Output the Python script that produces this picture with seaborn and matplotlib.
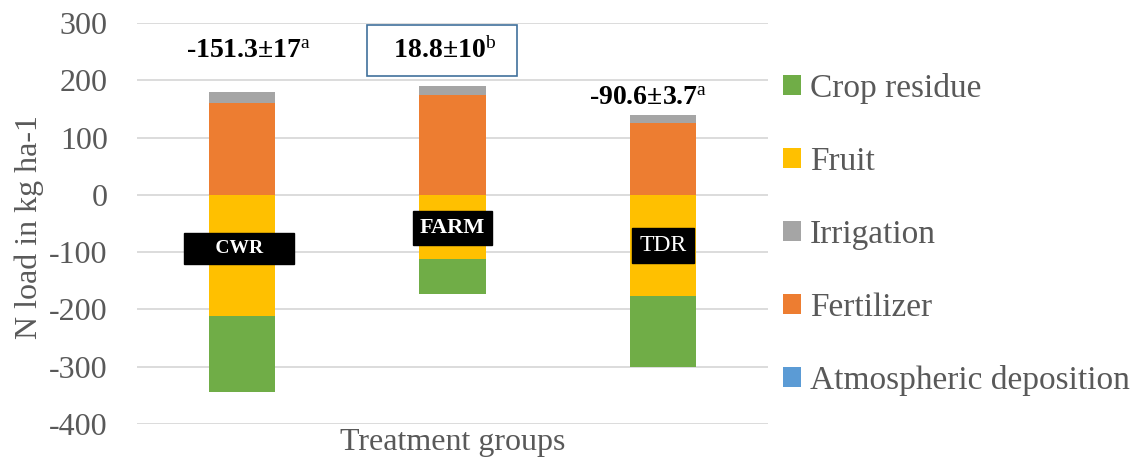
import matplotlib
matplotlib.use("Agg")
import matplotlib.pyplot as plt
from matplotlib.patches import Patch
import seaborn as sns
import numpy as np
import pandas as pd

# ---- data ----
groups = ["CWR", "FARM", "TDR"]
atmospheric_deposition = [0, 0, 0]
fertilizer = [160, 175, 125]
irrigation = [20, 15, 15]
fruit = [-212, -112, -177]
crop_residue = [-132, -61, -123]
net_labels = ["-151.3\u00b117", "18.8\u00b110", "-90.6\u00b13.7"]
net_letters = ["a", "b", "a"]
yticks = [-400, -300, -200, -100, 0, 100, 200, 300]

colors = {
    "Crop residue": "#70AD47",
    "Fruit": "#FFC000",
    "Irrigation": "#A5A5A5",
    "Fertilizer": "#ED7D31",
    "Atmospheric deposition": "#5B9BD5",
}

sns.set_style("white")
plt.rcParams["font.family"] = ["Liberation Serif", "DejaVu Serif"]
plt.rcParams["mathtext.fontset"] = "custom"
plt.rcParams["mathtext.rm"] = "Liberation Serif"
plt.rcParams["mathtext.it"] = "Liberation Serif:italic"
plt.rcParams["mathtext.bf"] = "Liberation Serif:bold"

fig = plt.figure(figsize=(11.39, 4.68), dpi=100)
ax = fig.add_axes([137 / 1139, 1 - 424 / 468, (768 - 137) / 1139, (424 - 23) / 468])

atm = np.array(atmospheric_deposition, float)
fert = np.array(fertilizer, float)
irr = np.array(irrigation, float)
fr = np.array(fruit, float)
cr = np.array(crop_residue, float)

layers = [
    ("Irrigation", atm + fert + irr),
    ("Fertilizer", atm + fert),
    ("Atmospheric deposition", atm),
    ("Crop residue", fr + cr),
    ("Fruit", fr),
]
for name, vals in layers:
    df = pd.DataFrame({"group": groups, "value": vals})
    sns.barplot(data=df, x="group", y="value", order=groups, color=colors[name],
                saturation=1, width=0.315, ax=ax, errorbar=None, linewidth=0,
                zorder=3)

ax.set_ylim(-400, 300)
ax.set_xlim(-0.5, 2.5)
ax.set_yticks(yticks)
ax.set_yticklabels([str(t) for t in yticks])
ax.set_xticks([])
ax.grid(axis="y", color="#D9D9D9", linewidth=1.3, zorder=0)
ax.set_axisbelow(True)
for s in ax.spines.values():
    s.set_visible(False)
ax.tick_params(axis="y", length=0, pad=21, labelsize=23, labelcolor="#595959")

ax.set_ylabel("N load in kg ha-1", fontsize=23, color="#595959")
ax.yaxis.set_label_coords(-0.147, 0.49)
ax.set_xlabel("Treatment groups", fontsize=23, color="#595959")
ax.xaxis.set_label_coords(0.5, -0.01)

# net balance annotations (offsets relative to each group's position)
ann_pos = [(0.03, 250), (-0.05, 252), (-0.07, 169)]
for i, ((dx, y), lab, let) in enumerate(zip(ann_pos, net_labels, net_letters)):
    kw = {}
    if i == 1:
        kw["bbox"] = dict(boxstyle="square,pad=0.45", fc="white", ec="#41719C", lw=1.2)
        txt = "  " + lab + "$^{\\mathrm{" + let + "}}$" + "  "
    else:
        txt = lab + "$^{\\mathrm{" + let + "}}$"
    ax.text(i + dx, y, txt, ha="center", va="center", fontsize=20,
            fontweight="bold", color="black", zorder=5, **kw)

# group labels on black boxes
box_specs = [(-0.015, -93, "     CWR     ", 14, "bold", 0.36),
             (0.0, -58, "FARM", 16, "bold", 0.3),
             (0.0, -89, "TDR", 17, "normal", 0.3)]
for i, (dx, y, t, fs, fw, pad) in enumerate(box_specs):
    ax.text(i + dx, y, t, ha="center", va="center", fontsize=fs, fontweight=fw,
            color="white", zorder=6,
            bbox=dict(boxstyle=f"square,pad={pad}", fc="black", ec="black"))

legend_order = ["Crop residue", "Fruit", "Irrigation", "Fertilizer", "Atmospheric deposition"]
handles = [Patch(facecolor=colors[n], edgecolor="none", label=n) for n in legend_order]
leg = fig.legend(handles=handles, loc="center left",
                 bbox_to_anchor=(783 / 1139, 1 - 234.5 / 468), frameon=False,
                 fontsize=24, handlelength=0.55, handleheight=0.55,
                 handletextpad=0.25, labelspacing=1.27, borderpad=0,
                 borderaxespad=0)
for t in leg.get_texts():
    t.set_color("#595959")

fig.savefig("out.png", dpi=100)
